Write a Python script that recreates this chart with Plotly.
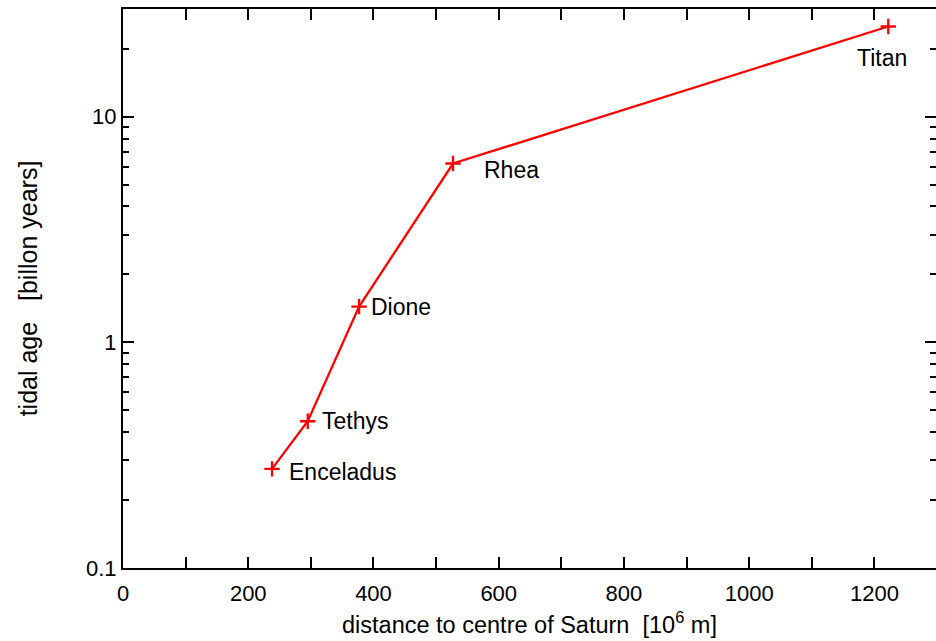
import math
import plotly.graph_objects as go

moons = ["Enceladus", "Tethys", "Dione", "Rhea", "Titan"]
distance = [238, 295, 377, 527, 1222]      # 10^6 m
tidal_age = [0.275, 0.447, 1.44, 6.2, 25.1]  # billion years

label_xshift = [15, 12, 10, 29, -6]
label_yshift = [-3, 0, 0, -6, -32]
label_anchor = ["left", "left", "left", "left", "center"]

x_major = [0, 200, 400, 600, 800, 1000, 1200]
x_minor = [100, 300, 500, 700, 900, 1100]
y_major = [0.1, 1, 10]
y_minor = [m * d for d in (0.1, 1, 10) for m in range(2, 10) if m * d <= 30]

FONT = "Liberation Sans, Arial, Helvetica, sans-serif"
FS = 22
RED = "#ff0000"

fig = go.Figure()
fig.add_trace(go.Scatter(
    x=distance, y=tidal_age, mode="lines+markers",
    line=dict(color=RED, width=2.3),
    marker=dict(symbol="cross-thin", size=11, line=dict(color=RED, width=2.3), color=RED),
    showlegend=False, hoverinfo="skip",
))
# invisible trace for right-hand tick axis
fig.add_trace(go.Scatter(x=[distance[0]], y=[tidal_age[0]], yaxis="y2",
                         mode="markers", marker=dict(opacity=0), showlegend=False,
                         hoverinfo="skip"))

for name, xv, yv, xs, ys, an in zip(moons, distance, tidal_age, label_xshift, label_yshift, label_anchor):
    fig.add_annotation(x=xv, y=math.log10(yv), text=name, showarrow=False,
                       xanchor=an, yanchor="middle", xshift=xs, yshift=ys,
                       font=dict(family=FONT, size=23, color="black"))

W, H = 936, 641
L, T, B = 123, 9, 73
xr_end = 1300 * (W - L) / (937.6 - 123.5)

fig.update_layout(
    width=W, height=H,
    margin=dict(l=L, r=0, t=T, b=B),
    paper_bgcolor="white", plot_bgcolor="white",
    font=dict(family=FONT, size=FS, color="black"),
    xaxis=dict(
        range=[0, xr_end], tickmode="array", tickvals=x_major,
        ticks="inside", ticklen=11, tickwidth=2, tickcolor="black",
        showline=True, linecolor="black", linewidth=2, mirror="allticks",
        showgrid=False, zeroline=False, ticklabelstandoff=5,
        minor=dict(tickmode="array", tickvals=x_minor,
                   ticks="inside", ticklen=6, tickwidth=2, tickcolor="black", showgrid=False),
        title=dict(text="distance to centre of Saturn \u00a0[10<sup>6</sup> m]", standoff=11,
                   font=dict(size=23.5)),
        tickfont=dict(size=FS),
    ),
    yaxis=dict(
        type="log", range=[-1, math.log10(30)], tickmode="array",
        tickvals=y_major, ticktext=["0.1", "1", "10"],
        ticks="inside", ticklen=11, tickwidth=2, tickcolor="black",
        showline=True, linecolor="black", linewidth=2, mirror=False,
        showgrid=False, zeroline=False,
        minor=dict(tickmode="array", tickvals=y_minor, ticks="inside", ticklen=6,
                   tickwidth=2, tickcolor="black", showgrid=False),
        title=dict(text="tidal age \u00a0\u00a0[billon years]", standoff=41,
                   font=dict(size=25)),
        tickfont=dict(size=FS),
    ),
    yaxis2=dict(
        type="log", range=[-1, math.log10(30)], overlaying="y", side="right",
        tickmode="array", tickvals=y_major, showticklabels=False,
        ticks="inside", ticklen=11, tickwidth=2, tickcolor="black",
        showline=False, showgrid=False, zeroline=False,
        minor=dict(tickmode="array", tickvals=y_minor, ticks="inside", ticklen=6,
                   tickwidth=2, tickcolor="black", showgrid=False),
    ),
)

fig.write_html("out.html")
